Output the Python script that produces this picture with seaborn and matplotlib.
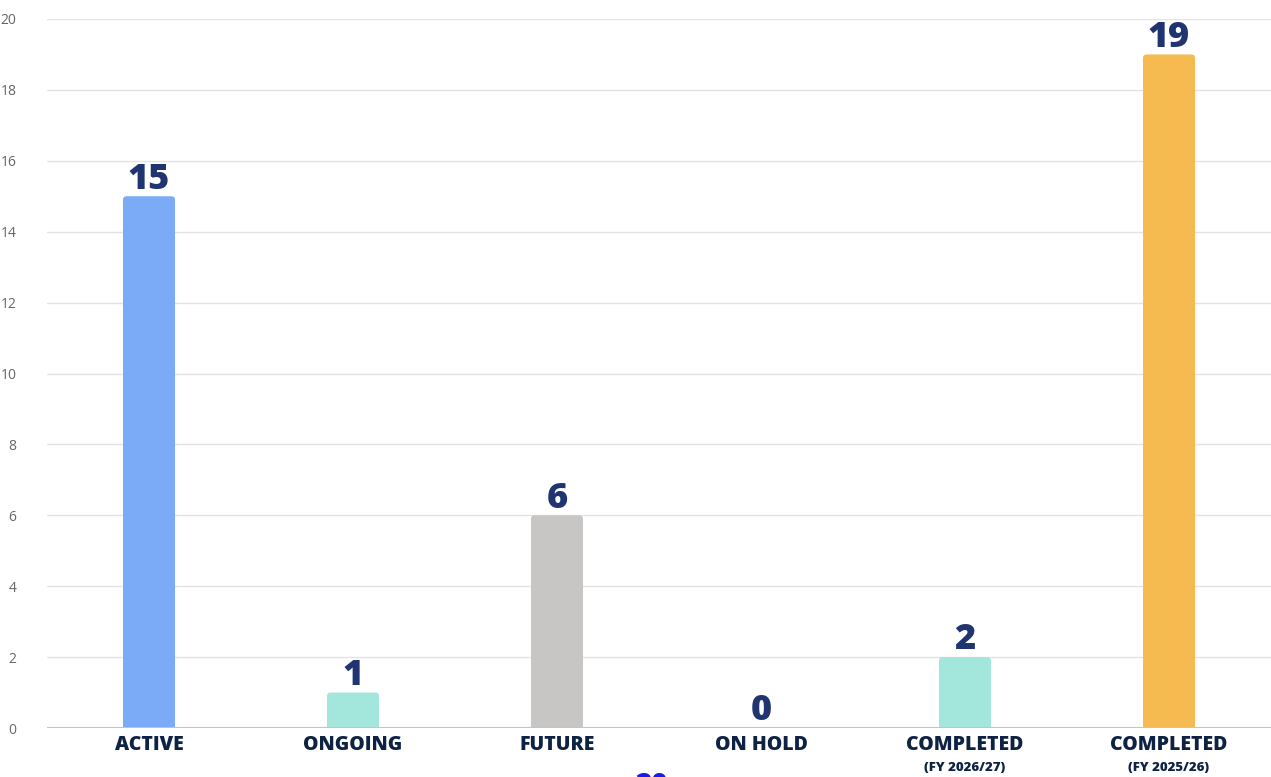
import matplotlib
matplotlib.use("Agg")
import matplotlib.pyplot as plt
import seaborn as sns
import pandas as pd
from matplotlib.patches import FancyBboxPatch
from matplotlib.transforms import blended_transform_factory

# Project counts by status
categories = ["ACTIVE", "ONGOING", "FUTURE", "ON HOLD", "COMPLETED", "COMPLETED "]
sublabels = ["", "", "", "", "(FY 2026/27)", "(FY 2025/26)"]
counts = [15, 1, 6, 0, 2, 19]
colors = ["#7BAAF7", "#A3E6DC", "#C8C5C5", "#A3E6DC", "#A3E6DC", "#F6BB50"]
yticks = [0, 2, 4, 6, 8, 10, 12, 14, 16, 18, 20]

sns.set_theme(style="white")
plt.rcParams["font.family"] = ["Open Sans", "DejaVu Sans"]

df = pd.DataFrame({"status": categories, "count": counts})

fig = plt.figure(figsize=(12.71, 7.77), dpi=100)
ax = fig.add_axes([47 / 1271, 1 - 728 / 777, 1 - 47 / 1271, (728 - 19) / 777])

sns.barplot(data=df, x="status", y="count", hue="status", palette=colors,
            width=0.255, dodge=False, legend=False, ax=ax, saturation=1)

ax.set_xlim(-0.5, 5.5)
ax.set_ylim(0, 20)

# soften the top corners of each bar
for p in list(ax.patches):
    h = p.get_height()
    if h <= 0:
        continue
    x0, w = p.get_x(), p.get_width()
    rounded = FancyBboxPatch((x0, 0), w, h, boxstyle="round,pad=0,rounding_size=0.018",
                             mutation_aspect=5.8, facecolor=p.get_facecolor(),
                             edgecolor="none", zorder=p.get_zorder())
    ax.add_patch(rounded)
    p.set_height(h / 2)
    p.set_edgecolor("none")

ax.set_yticks(yticks)
ax.set_yticklabels([str(v) for v in yticks], fontsize=10, color="#666666")
ax.tick_params(axis="y", length=0, pad=22)
ax.tick_params(axis="x", length=0, pad=5)
ax.grid(axis="y", color="#E3E3E3", linewidth=1)
ax.set_axisbelow(True)
for s in ax.spines.values():
    s.set_visible(False)
ax.axhline(0, color="#C4C4C4", linewidth=1.5, zorder=3)

ax.set_xlabel("")
ax.set_ylabel("")
ax.set_xticks(range(len(categories)))
ax.set_xticklabels([c.strip() for c in categories], fontsize=14,
                   fontweight="heavy", color="#0E2244")

trans = blended_transform_factory(ax.transData, ax.transAxes)
for i, sub in enumerate(sublabels):
    if sub:
        ax.text(i, -0.0565, sub, transform=trans, ha="center", va="center",
                fontsize=9.5, fontweight="heavy", color="#0E2244")

for i, v in enumerate(counts):
    ax.annotate(str(v), (i, v), xytext=(0, -1), textcoords="offset points",
                ha="center", va="bottom", fontsize=26, fontweight="heavy",
                color="#1F3470")

# heading text at the bottom edge, only its top shows
fig.text(652 / 1271, 1 - 771 / 777, "20", ha="center", va="top", fontsize=20,
         fontweight="heavy", color="#1A1AF0")

fig.savefig("out.png", dpi=100, facecolor="white")
